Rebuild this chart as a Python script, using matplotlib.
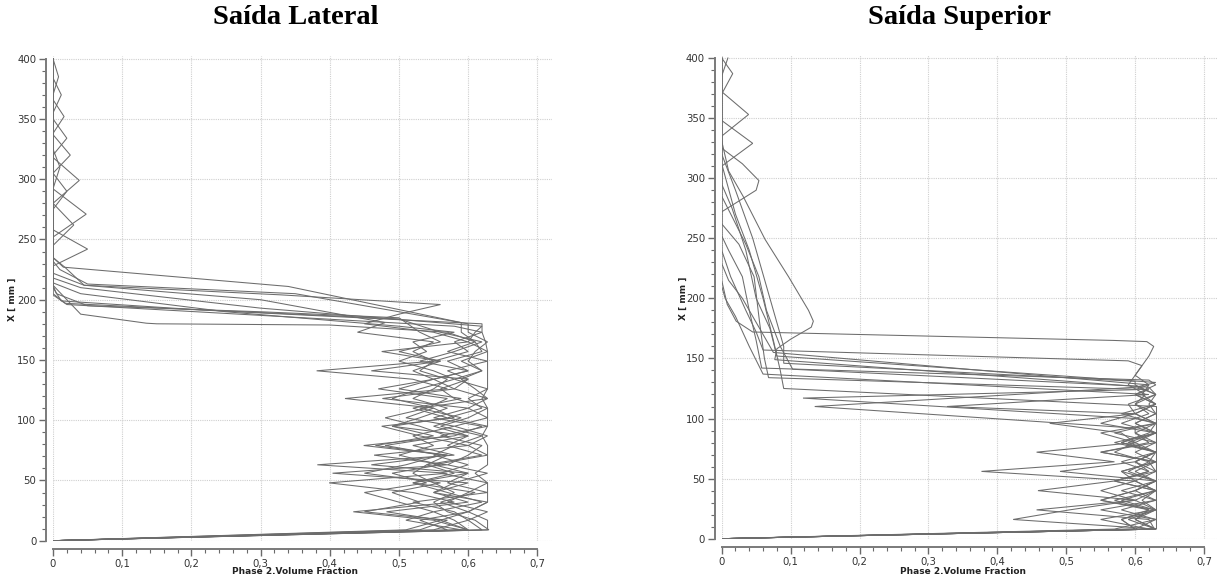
import matplotlib
matplotlib.use("Agg")
import matplotlib.pyplot as plt
from matplotlib.ticker import FixedLocator

# ---------------- Saída Lateral : height [mm] / phase-2 volume fraction ----------------
lat_h_zig = [0, 9, 17, 24, 32, 40, 48, 56, 63, 71, 79, 87, 95, 102, 110, 118, 126, 134, 141, 149, 157, 165, 173]

lat_f_1 = [0, .628, .628, .60, .628, .628, .628, .61, .628, .628, .628, .62, .628, .628, .628, .62, .628, .628, .628, .628, .628, .625, .62]
lat_f_2 = [0, .57, .53, .60, .56, .61, .52, .58, .54, .62, .57, .60, .55, .59, .53, .628, .58, .55, .60, .57, .62, .61, .57]
lat_f_3 = [0, .60, .55, .434, .58, .52, .399, .57, .382, .58, .52, .60, .49, .57, .52, .59, .50, .55, .60, .53, .58, .62, .56]
lat_f_4 = [0, .51, .56, .482, .60, .55, .60, .404, .57, .464, .60, .53, .475, .58, .55, .422, .57, .52, .381, .55, .60, .58, .62]
lat_f_5 = [0, .60, .58, .55, .62, .57, .52, .60, .46, .57, .449, .58, .62, .55, .60, .476, .58, .60, .46, .56, .475, .60, .55]
lat_f_6 = [0, .63, .61, .57, .55, .58, .55, .52, .54, .57, .466, .55, .49, .53, .57, .52, .55, .57, .53, .55, .52, .55, .44]
lat_f_7 = [0, .55, .60, .58, .52, .628, .57, .60, .55, .628, .60, .628, .58, .628, .60, .628, .61, .59, .62, .60, .61, .628, .60]
lat_f_8 = [0, .59, .51, .55, .50, .45, .54, .49, .56, .50, .55, .52, .58, .51, .55, .49, .53, .58, .55, .50, .54, .52, .58]
lat_f_9 = [0, .62, .60, .628, .57, .60, .628, .56, .60, .55, .58, .62, .56, .60, .628, .58, .56, .60, .57, .628, .57, .61, .59]
lat_f_10 = [0, .53, .57, .45, .53, .49, .56, .45, .51, .56, .48, .57, .53, .48, .54, .57, .47, .55, .52, .56, .50, .56, .53]
lat_f_11 = [0, .60, .56, .60, .628, .55, .58, .628, .57, .60, .62, .56, .628, .57, .62, .60, .628, .58, .62, .59, .628, .60, .61]

# interface and upper (dilute) part of each profile
lat_top_h_1 = [180, 197, 205, 228, 242, 258, 400]
lat_top_f_1 = [.62, .018, 0, 0, .05, 0, 0]
lat_top_h_2 = [179, 180, 180.5, 188, 212, 252, 271, 292, 400]
lat_top_f_2 = [.40, .15, .135, .04, 0, 0, .048, 0, 0]
lat_top_h_3 = [184, 192, 199, 210, 280, 299, 318, 400]
lat_top_f_3 = [.50, .20, .012, 0, 0, .038, 0, 0]
lat_top_h_4 = [178, 187, 196, 204, 305, 320, 337, 400]
lat_top_f_4 = [.58, .30, .02, 0, 0, .025, 0, 0]
lat_top_h_5 = [180, 188, 196, 204, 212, 222, 320, 334, 350, 400]
lat_top_f_5 = [.45, .50, .56, .33, .045, 0, 0, .02, 0, 0]
lat_top_h_6 = [181, 200, 212, 227, 235, 338, 352, 366, 400]
lat_top_f_6 = [.48, .30, .045, .017, 0, 0, .016, 0, 0]
lat_top_h_7 = [180, 205, 213, 225, 232, 355, 370, 384, 400]
lat_top_f_7 = [.60, .35, .05, .01, 0, 0, .012, 0, 0]
lat_top_h_8 = [178, 190, 205, 214, 370, 385, 400]
lat_top_f_8 = [.50, .25, .04, 0, 0, .008, 0]
lat_top_h_9 = [181, 211, 227, 235, 245, 262, 280, 400]
lat_top_f_9 = [.59, .34, .015, 0, 0, .03, 0, 0]
lat_top_h_10 = [185, 190, 195, 205, 212, 275, 290, 305, 400]
lat_top_f_10 = [.50, .30, .05, .005, 0, 0, .02, 0, 0]
lat_top_h_11 = [178, 193, 210, 218, 292, 310, 325, 400]
lat_top_f_11 = [.62, .30, .04, 0, 0, .01, 0, 0]

# ---------------- Saída Superior ----------------
sup_h_1 = [0, 8, 16, 24, 32, 40, 48, 56, 64, 72, 80, 88, 96, 104, 112, 120, 128, 136, 144, 152, 160,
           164, 165, 172, 181, 195, 215, 272, 290, 298, 312, 325, 400]
sup_f_1 = [0, .63, .60, .63, .61, .63, .60, .63, .62, .63, .59, .63, .60, .63, .60, .615, .59, .60, .61, .62, .627,
           .617, .568, .045, .021, .008, 0, 0, .05, .054, .03, 0, 0]
sup_h_2 = [0, 8, 16, 24, 32, 40, 48, 56, 64, 72, 80, 88, 96, 104, 112, 120, 128, 136, 144,
           148, 157, 172, 190, 218, 240, 310, 329, 348, 400]
sup_f_2 = [0, .62, .55, .628, .58, .63, .57, .62, .60, .63, .58, .62, .63, .60, .63, .61, .62, .60, .61,
           .59, .06, .05, .035, .013, 0, 0, .045, 0, 0]
sup_h_3 = [0, 8, 16, 24, 32, 40, 48, 56, 64, 72, 80, 88, 96, 104, 112, 120,
           126, 149, 158, 166, 176, 181, 190, 218, 249, 285, 306, 331, 400]
sup_f_3 = [0, .60, .58, .63, .55, .60, .63, .491, .60, .63, .58, .63, .60, .63, .62, .63,
           .62, .077, .08, .10, .13, .133, .126, .097, .063, .031, .01, 0, 0]
sup_h_4 = [0, 8, 16, 24, 32, 40, 48, 56, 64, 72, 80, 88, 96, 104, 112, 120,
           127, 141, 160, 190, 218, 245, 268, 285, 335, 353, 372, 400]
sup_f_4 = [0, .63, .423, .505, .60, .459, .57, .62, .58, .63, .60, .55, .63, .60, .59, .63,
           .60, .103, .085, .065, .054, .035, .015, 0, 0, .039, 0, 0]
sup_h_5 = [0, 8, 16, 24, 32, 40, 48, 56, 64, 72, 80, 88, 96, 104, 112, 120,
           124, 134, 150, 180, 218, 245, 262, 370, 387, 400]
sup_f_5 = [0, .628, .62, .457, .60, .55, .60, .377, .57, .457, .60, .58, .476, .60, .63, .60,
           .62, .068, .062, .055, .047, .025, 0, 0, .016, 0]
sup_h_6 = [0, 8, 16, 24, 32, 40, 48, 56, 64, 72, 80, 88, 96, 104, 112, 120, 128,
           132, 142, 165, 190, 218, 240, 252, 385, 400]
sup_f_6 = [0, .57, .63, .58, .63, .60, .63, .58, .63, .55, .63, .60, .63, .58, .63, .60, .63,
           .62, .058, .05, .04, .03, .01, 0, 0, .009]
sup_h_7 = [0, 8, 16, 24, 32, 40, 48, 56, 64, 72, 80, 88,
           92, 110, 126, 130, 152, 175, 200, 240, 275, 295, 400]
sup_f_7 = [0, .60, .63, .55, .63, .58, .63, .60, .63, .55, .62, .60,
           .60, .135, .60, .63, .08, .07, .05, .035, .015, 0, 0]
sup_h_8 = [0, 8, 16, 24, 32, 40, 48, 56, 64, 72, 80, 88, 96,
           100, 117, 124, 128, 155, 175, 200, 215, 229, 400]
sup_f_8 = [0, .63, .60, .62, .57, .63, .60, .58, .63, .60, .63, .57, .63,
           .60, .118, .60, .62, .075, .055, .03, .01, 0, 0]
sup_h_9 = [0, 8, 16, 24, 32, 40, 48, 56, 64, 72, 80, 88, 96, 104,
           110, 116, 120, 137, 160, 185, 200, 210, 400]
sup_f_9 = [0, .63, .59, .63, .60, .63, .57, .63, .60, .63, .57, .63, .55, .60,
           .327, .50, .62, .06, .04, .02, .005, 0, 0]
sup_h_10 = [0, 8, 16, 24, 32, 40, 48, 56, 64, 72, 80, 88, 96, 104,
            110, 125, 140, 165, 200, 240, 270, 312, 400]
sup_f_10 = [0, .631, .631, .631, .631, .631, .631, .631, .631, .631, .631, .631, .631, .631,
            .631, .09, .085, .075, .06, .04, .02, 0, 0]
sup_h_11 = [0, 8, 16, 24, 32, 40, 48, 56, 64, 72, 80, 88, 96, 104, 112, 120, 128,
            131, 146, 160, 180, 210, 250, 290, 320, 400]
sup_f_11 = [0, .60, .58, .62, .55, .60, .63, .59, .62, .57, .60, .63, .58, .62, .60, .63, .60,
            .60, .09, .09, .08, .065, .045, .02, 0, 0]

x_ticks = [0, 0.1, 0.2, 0.3, 0.4, 0.5, 0.6, 0.7]
x_tick_labels = ["0", "0,1", "0,2", "0,3", "0,4", "0,5", "0,6", "0,7"]
y_ticks = [0, 50, 100, 150, 200, 250, 300, 350, 400]

lateral_profiles = [
    (lat_h_zig + lat_top_h_1, lat_f_1 + lat_top_f_1),
    (lat_h_zig + lat_top_h_2, lat_f_2 + lat_top_f_2),
    (lat_h_zig + lat_top_h_3, lat_f_3 + lat_top_f_3),
    (lat_h_zig + lat_top_h_4, lat_f_4 + lat_top_f_4),
    (lat_h_zig + lat_top_h_5, lat_f_5 + lat_top_f_5),
    (lat_h_zig + lat_top_h_6, lat_f_6 + lat_top_f_6),
    (lat_h_zig + lat_top_h_7, lat_f_7 + lat_top_f_7),
    (lat_h_zig + lat_top_h_8, lat_f_8 + lat_top_f_8),
    (lat_h_zig + lat_top_h_9, lat_f_9 + lat_top_f_9),
    (lat_h_zig + lat_top_h_10, lat_f_10 + lat_top_f_10),
    (lat_h_zig + lat_top_h_11, lat_f_11 + lat_top_f_11),
]
superior_profiles = [
    (sup_h_1, sup_f_1), (sup_h_2, sup_f_2), (sup_h_3, sup_f_3), (sup_h_4, sup_f_4),
    (sup_h_5, sup_f_5), (sup_h_6, sup_f_6), (sup_h_7, sup_f_7), (sup_h_8, sup_f_8),
    (sup_h_9, sup_f_9), (sup_h_10, sup_f_10), (sup_h_11, sup_f_11),
]

W, H = 1219, 577
fig = plt.figure(figsize=(W / 100, H / 100), dpi=100)
fig.patch.set_facecolor("white")


def make_panel(rect, profiles, title, title_x, ylabel_x):
    ax = fig.add_axes(rect)
    for hs, fs in profiles:
        ax.plot(fs, hs, color="#6c6c6c", lw=0.75, solid_joinstyle="miter")
    ax.set_xlim(0, 0.7207)
    ax.set_ylim(0, 402.5)
    for v in x_ticks:
        ax.axvline(v, color="#cfcfcf", lw=0.8, ls=(0, (1, 1)), zorder=0)
    for v in y_ticks:
        ax.axhline(v, color="#cfcfcf", lw=0.8, ls=(0, (1, 1)), zorder=0)
    for s in ("top", "right"):
        ax.spines[s].set_visible(False)
    ax.spines["left"].set_position(("outward", 5))
    ax.spines["bottom"].set_position(("outward", 6))
    ax.spines["left"].set_bounds(0, 400)
    ax.spines["bottom"].set_bounds(0, 0.7)
    for s in ("left", "bottom"):
        ax.spines[s].set_color("#7a7a7a")
        ax.spines[s].set_linewidth(1.4)
    ax.xaxis.set_major_locator(FixedLocator(x_ticks))
    ax.set_xticklabels(x_tick_labels)
    ax.xaxis.set_minor_locator(FixedLocator([i * 0.02 for i in range(36)]))
    ax.yaxis.set_major_locator(FixedLocator(y_ticks))
    ax.yaxis.set_minor_locator(FixedLocator(list(range(0, 401, 10))))
    ax.tick_params(which="major", length=5, width=1.0, color="#6a6a6a",
                   labelsize=7.3, labelcolor="#333333", pad=2)
    ax.tick_params(which="minor", length=3, width=0.8, color="#6a6a6a")
    ax.set_facecolor("white")
    fig.text(title_x, 1 - 17 / H, title, ha="center", va="center",
             fontsize=20.5, fontweight="bold", family="Liberation Serif")
    fig.text(ylabel_x, rect[1] + rect[3] * 200 / 402.5, "X [ mm ]", rotation=90,
             ha="center", va="center", fontsize=6.5, fontweight="bold", color="#222222")
    x_center = rect[0] + rect[2] * 0.35 / 0.7207
    fig.text(x_center, 1 - 571 / H, "Phase 2.Volume Fraction", ha="center", va="center",
             fontsize=6.5, fontweight="bold", color="#222222")
    return ax


make_panel([53 / W, (H - 540.7) / H, 498.7 / W, 485 / H], lateral_profiles,
           "Saída Lateral", 296 / W, 12.5 / W)
make_panel([721.7 / W, (H - 538.7) / H, 496.6 / W, 483.7 / H], superior_profiles,
           "Saída Superior", 960 / W, 683 / W)

fig.savefig("out.png", dpi=100, facecolor="white")
